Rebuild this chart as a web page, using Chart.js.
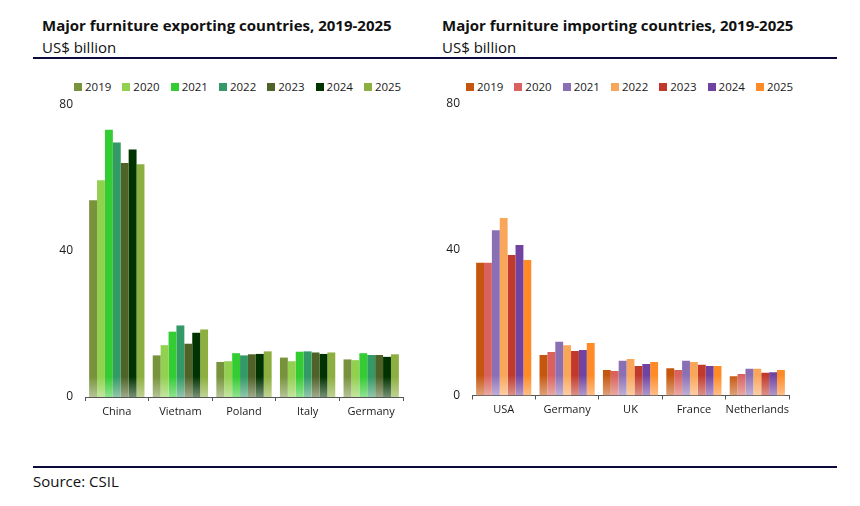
<!DOCTYPE html>
<html>
<head>
<meta charset="utf-8">
<script src="https://cdn.jsdelivr.net/npm/chart.js@4.4.0/dist/chart.umd.min.js"></script>
<style>
  body { margin: 0; background: #fff; font-family: 'Open Sans', sans-serif; color: #111; }
  #page { position: relative; width: 860px; height: 506px; overflow: hidden; }
  .title { position: absolute; top: 15px; font-weight: bold; font-size: 15px; line-height: 20px; white-space: nowrap; }
  .sub { position: absolute; top: 37px; font-size: 15px; line-height: 20px; white-space: nowrap; }
  .rule { position: absolute; left: 33px; width: 804px; height: 0; border-top: 2px solid #0b0b3b; }
  .legend { position: absolute; top: 80px; display: flex; font-size: 11.5px; line-height: 14px; color: #1a1a1a; }
  .legend .item { display: flex; align-items: center; margin-right: 11px; }
  .legend i { display: inline-block; width: 8px; height: 8px; margin-right: 3px; }
  .box { position: absolute; top: 60px; width: 400px; height: 370px; }
  #source { position: absolute; left: 33px; top: 471px; font-size: 15px; line-height: 20px; }
</style>
</head>
<body>
<div id="page">
  <div class="title" style="left:42px">Major furniture exporting countries, 2019-2025</div>
  <div class="sub" style="left:42px">US$ billion</div>
  <div class="title" style="left:442px">Major furniture importing countries, 2019-2025</div>
  <div class="sub" style="left:442px">US$ billion</div>
  <div class="rule" style="top:57px"></div>

  <div class="legend" id="legendLeft" style="left:74px"></div>
  <div class="legend" id="legendRight" style="left:466px"></div>

  <div class="box" style="left:20px"><canvas id="exportChart" width="400" height="370"></canvas></div>
  <div class="box" style="left:410px"><canvas id="importChart" width="400" height="370"></canvas></div>

  <div class="rule" style="top:466px"></div>
  <div id="source">Source: CSIL</div>
</div>

<script>
const years = ['2019', '2020', '2021', '2022', '2023', '2024', '2025'];

// exports, US$ billion, 2019..2025
const exportCountries = ['China', 'Vietnam', 'Poland', 'Italy', 'Germany'];
const exChina   = [53.9, 59.4, 73.2, 69.7, 64.1, 67.8, 63.8];
const exVietnam = [11.4, 14.2, 17.9, 19.6, 14.6, 17.6, 18.5];
const exPoland  = [9.6, 9.8, 12.0, 11.4, 11.7, 11.8, 12.5];
const exItaly   = [10.8, 9.8, 12.4, 12.5, 12.2, 11.8, 12.2];
const exGermany = [10.3, 10.1, 12.0, 11.5, 11.5, 11.0, 11.7];

// imports, US$ billion, 2019..2025
const importCountries = ['USA', 'Germany', 'UK', 'France', 'Netherlands'];
const imUSA         = [36.4, 36.4, 45.3, 48.6, 38.5, 41.2, 37.1];
const imGermany     = [11.1, 11.9, 14.7, 13.8, 12.2, 12.5, 14.4];
const imUK          = [7.0, 6.7, 9.5, 10.0, 8.1, 8.6, 9.2];
const imFrance      = [7.5, 7.0, 9.5, 9.2, 8.4, 8.1, 8.1];
const imNetherlands = [5.3, 5.9, 7.3, 7.3, 6.2, 6.4, 7.0];

const yTicks = [0, 40, 80];

const exportColors = ['#77933c', '#92d050', '#33cc33', '#339966', '#4f6228', '#003300', '#8caf3f'];
const importColors = ['#c5560f', '#d9625e', '#8b6fb5', '#f9a65a', '#c0392b', '#7043a0', '#ff8a26'];

const FONT = { family: 'Open Sans', size: 11 };

function lighten(hex, amt) {
  const n = parseInt(hex.slice(1), 16);
  const r = (n >> 16) & 255, g = (n >> 8) & 255, b = n & 255;
  const m = v => Math.round(v + (255 - v) * amt);
  return `rgb(${m(r)},${m(g)},${m(b)})`;
}

// bars fade out a little near the baseline
function barFill(color) {
  return (c) => {
    const area = c.chart.chartArea;
    if (!area) return color;
    const g = c.chart.ctx.createLinearGradient(0, area.bottom, 0, area.top);
    g.addColorStop(0, lighten(color, 0.45));
    g.addColorStop(0.07, color);
    g.addColorStop(1, color);
    return g;
  };
}

function buildLegend(id, colors) {
  const el = document.getElementById(id);
  years.forEach((y, i) => {
    const item = document.createElement('span');
    item.className = 'item';
    item.innerHTML = `<i style="background:${colors[i]}"></i>${y}`;
    el.appendChild(item);
  });
}

function makeChart(canvasId, countries, rows, colors, pad) {
  const datasets = years.map((y, i) => ({
    label: y,
    data: rows.map(r => r[i]),
    backgroundColor: barFill(colors[i]),
    borderWidth: 0,
    barPercentage: 1.0,
    categoryPercentage: 0.87,
  }));

  return new Chart(document.getElementById(canvasId), {
    type: 'bar',
    data: { labels: countries, datasets: datasets },
    options: {
      responsive: false,
      animation: false,
      layout: { padding: pad },
      plugins: {
        legend: { display: false },
        tooltip: { enabled: false },
      },
      scales: {
        x: {
          grid: { display: true, drawOnChartArea: false, drawTicks: true, tickLength: 4, color: '#555', offset: true },
          border: { display: true, color: '#555', width: 1 },
          ticks: { font: FONT, color: '#1a1a1a', padding: 4, maxRotation: 0, minRotation: 0, autoSkip: false },
          afterFit: (a) => { a.height = 30; },
        },
        y: {
          min: 0,
          max: 80,
          afterBuildTicks: (a) => { a.ticks = yTicks.map(v => ({ value: v })); },
          ticks: { font: { family: 'Open Sans', size: 12 }, color: '#1a1a1a', padding: 12 },
          grid: { display: false, drawTicks: false },
          border: { display: false },
          afterFit: (a) => { a.width = 40; },
        },
      },
    },
  });
}

buildLegend('legendLeft', exportColors);
buildLegend('legendRight', importColors);

makeChart('exportChart', exportCountries,
  [exChina, exVietnam, exPoland, exItaly, exGermany],
  exportColors, { left: 25, right: 17, top: 45, bottom: 3 });

makeChart('importChart', importCountries,
  [imUSA, imGermany, imUK, imFrance, imNetherlands],
  importColors, { left: 22, right: 21, top: 43.5, bottom: 4.5 });
</script>
</body>
</html>
